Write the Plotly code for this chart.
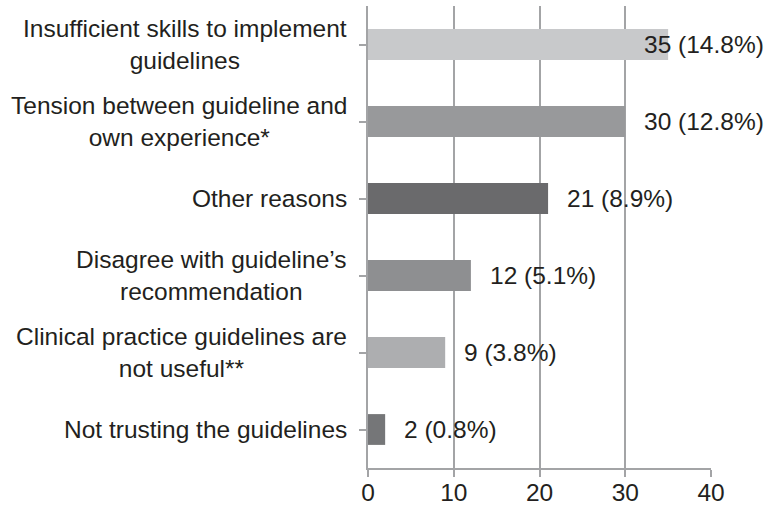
import plotly.graph_objects as go

categories = [
    "Insufficient skills to implement<br>guidelines",
    "Tension between guideline and<br>own experience*",
    "Other reasons",
    "Disagree with guideline\u2019s<br>recommendation",
    "Clinical practice guidelines are<br>not useful**",
    "Not trusting the guidelines",
]
counts = [35, 30, 21, 12, 9, 2]
percents = ["14.8%", "12.8%", "8.9%", "5.1%", "3.8%", "0.8%"]
bar_colors = ["#c8c9cb", "#98999b", "#6a6a6c", "#8e8f91", "#adaeb0", "#757678"]
x_ticks = [0, 10, 20, 30, 40]

FONT = "Liberation Sans, Arial, Helvetica, sans-serif"
TXT = "#231f20"
AX = "#a3a4a6"
FS = 24.5

ids = list(range(len(categories)))

fig = go.Figure()
fig.add_trace(go.Bar(
    x=counts, y=ids, orientation="h",
    marker=dict(color=bar_colors, line=dict(width=0)),
    width=0.4, showlegend=False, hoverinfo="skip",
))

annotations = []
for i, (cat, c, p) in enumerate(zip(categories, counts, percents)):
    annotations.append(dict(
        x=0, xref="paper", y=i, yref="y", text=cat, showarrow=False,
        xanchor="right", yanchor="middle", align="center", xshift=-19,
        font=dict(family=FONT, size=FS, color=TXT),
    ))
    annotations.append(dict(
        x=c, xref="x", y=i, yref="y", text=f"{c} ({p})", showarrow=False,
        xanchor="left", yanchor="middle", xshift=(17 if c < 33 else -26),
        font=dict(family=FONT, size=FS, color=TXT),
    ))

fig.update_layout(
    width=766, height=507,
    margin=dict(l=368, r=55, t=6, b=39, autoexpand=False),
    paper_bgcolor="white", plot_bgcolor="white",
    font=dict(family=FONT, size=FS, color=TXT),
    annotations=annotations,
    xaxis=dict(
        range=[0, 40], tickvals=x_ticks, ticktext=[str(t) for t in x_ticks],
        showgrid=True, gridcolor=AX, gridwidth=2,
        showline=True, linecolor=AX, linewidth=2,
        ticks="outside", ticklen=7, tickwidth=2, tickcolor=AX,
        ticklabelstandoff=-5, automargin=False,
        zeroline=False, fixedrange=True,
        tickfont=dict(family=FONT, size=FS, color=TXT),
    ),
    yaxis=dict(
        range=[len(categories) - 0.5, -0.5],
        tickvals=ids, showticklabels=False, automargin=False,
        tickson="boundaries", ticks="outside", ticklen=7, tickwidth=2, tickcolor=AX,
        showline=True, linecolor=AX, linewidth=2,
        showgrid=False, zeroline=False, fixedrange=True,
    ),
)

fig.write_html("out.html")
